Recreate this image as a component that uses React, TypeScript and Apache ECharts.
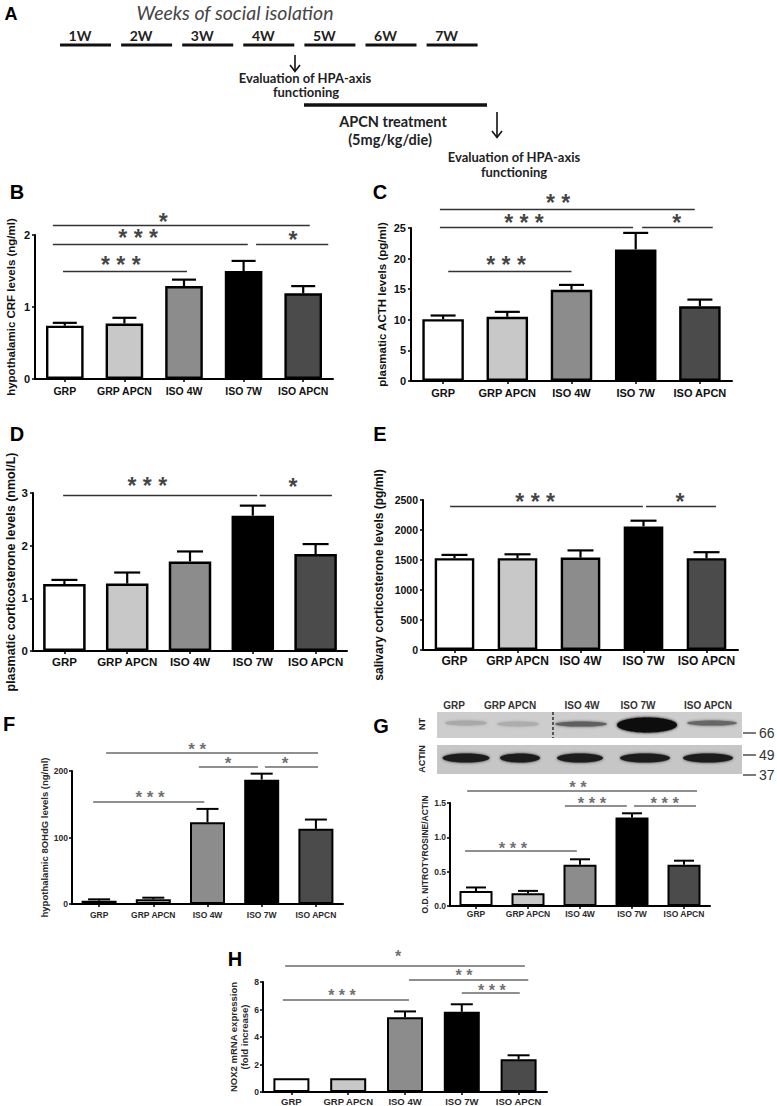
import React, { useEffect, useRef } from "react";
import * as echarts from "echarts";

const categories = ["GRP", "GRP APCN", "ISO 4W", "ISO 7W", "ISO APCN"];
const barColors = ["#ffffff", "#c8c8c8", "#8c8c8c", "#000000", "#4b4b4b"];
const weeks = ["1W", "2W", "3W", "4W", "5W", "6W", "7W"];

// B: hypothalamic CRF
const crfValues = [0.74, 0.77, 1.29, 1.5, 1.19];
const crfErrors = [0.04, 0.08, 0.09, 0.14, 0.1];
const crfTicks = [0, 2, 1];
// [x1, x2, lineY, starX, starY, stars]
const crfSig = [
  [-0.2, 4.11, 2.14, 1.65, 2.25, "*"],
  [-0.2, 3.07, 1.875, 1.23, 2.03, "***"],
  [3.21, 4.42, 1.875, 3.83, 2.0, "*"],
  [-0.03, 2.05, 1.5, 0.94, 1.65, "***"],
];

// C: plasmatic ACTH
const acthValues = [10.1, 10.5, 14.9, 21.5, 12.2];
const acthErrors = [0.6, 0.8, 0.8, 2.7, 1.1];
const acthTicks = [0, 25, 5];
const acthSig = [
  [-0.05, 3.92, 28.1, 1.79, 29.9, "**"],
  [-0.05, 2.96, 25.2, 1.26, 26.6, "***"],
  [3.1, 4.2, 25.2, 3.64, 26.6, "*"],
  [0.08, 2.0, 18.0, 0.98, 19.8, "***"],
];

// D: plasmatic corticosterone
const plasmaCortValues = [1.27, 1.28, 1.7, 2.57, 1.84];
const plasmaCortErrors = [0.08, 0.21, 0.19, 0.19, 0.19];
const plasmaCortTicks = [0, 3, 1];
const plasmaCortSig = [
  [-0.02, 3.07, 2.95, 1.32, 3.22, "***"],
  [3.11, 4.26, 2.95, 3.64, 3.2, "*"],
];

// E: salivary corticosterone
const salivaCortValues = [1530, 1530, 1540, 2060, 1530];
const salivaCortErrors = [55, 65, 120, 95, 100];
const salivaCortTicks = [0, 2500, 500];
const salivaCortSig = [
  [-0.07, 2.99, 2400, 1.28, 2550, "***"],
  [3.04, 4.15, 2400, 3.58, 2550, "*"],
];

// F: hypothalamic 8OHdG
const ohdgValues = [5, 7, 123, 187, 113];
const ohdgErrors = [2, 2.5, 20, 9, 14];
const ohdgTicks = [0, 200, 100];
const ohdgSig = [
  [0.13, 4.04, 228, 1.81, 238, "**"],
  [1.84, 2.93, 207, 2.38, 217, "*"],
  [3.06, 4.04, 207, 3.43, 217, "*"],
  [-0.11, 1.94, 154.5, 0.94, 166, "***"],
];

// G: nitrotyrosine / actin
const ntValues = [0.22, 0.185, 0.6, 1.29, 0.6];
const ntErrors = [0.05, 0.035, 0.08, 0.06, 0.06];
const ntTicks = [0, 1.5, 0.5];
const ntSig = [
  [-0.17, 4.25, 1.674, 1.96, 1.79, "**"],
  [1.71, 2.9, 1.456, 2.23, 1.55, "***"],
  [3.04, 4.23, 1.456, 3.63, 1.55, "***"],
  [-0.21, 1.94, 0.8, 0.71, 0.89, "***"],
];
const blotMarkers = ["66", "49", "37"];

// H: NOX2 mRNA
const nox2Values = [1.0, 1.0, 5.43, 5.83, 2.38];
const nox2Errors = [0, 0, 0.43, 0.55, 0.29];
const nox2Ticks = [0, 8, 2];
const nox2Sig = [
  [-0.11, 4.11, 9.2, 1.88, 10.14, "*"],
  [2.07, 4.17, 8.14, 3.04, 8.71, "**"],
  [3.0, 4.02, 7.2, 3.53, 7.64, "***"],
  [-0.15, 2.07, 6.7, 0.89, 7.29, "***"],
];

const FONT = "Liberation Sans";

const panels: any[] = [
  { left: 35, top: 235, width: 298, height: 144, values: crfValues, errors: crfErrors, ticks: crfTicks, sig: crfSig,
    ylabel: "hypothalamic CRF levels (ng/ml)", ylabelSize: 11.5, nameGap: 17, labelSize: 10.5, tickSize: 11, xMargin: 6, yMargin: 5,
    barWidth: 37.6, border: 2.4, errW: 2.2, cap: 12, starSize: 23, starColor: "#111", starDy: 5, lineColor: "#333", lineW: 1.3, textColor: "#111", axisW: 2 },
  { left: 411, top: 228, width: 321, height: 153, values: acthValues, errors: acthErrors, ticks: acthTicks, sig: acthSig,
    ylabel: "plasmatic ACTH levels (pg/ml)", ylabelSize: 11.5, nameGap: 22, labelSize: 11, tickSize: 11, xMargin: 6, yMargin: 5,
    barWidth: 41.5, border: 2.4, errW: 2.2, cap: 12.5, starSize: 23, starColor: "#111", starDy: 5, lineColor: "#333", lineW: 1.3, textColor: "#111", axisW: 2 },
  { left: 33, top: 493, width: 314, height: 158, values: plasmaCortValues, errors: plasmaCortErrors, ticks: plasmaCortTicks, sig: plasmaCortSig,
    ylabel: "plasmatic corticosterone levels (nmol/L)", ylabelSize: 12.5, nameGap: 15, labelSize: 11.5, tickSize: 11.5, xMargin: 5, yMargin: 5,
    barWidth: 42.5, border: 2.5, errW: 2.2, cap: 13, starSize: 23, starColor: "#111", starDy: 5, lineColor: "#333", lineW: 1.3, textColor: "#111", axisW: 2 },
  { left: 423, top: 500, width: 315, height: 150, values: salivaCortValues, errors: salivaCortErrors, ticks: salivaCortTicks, sig: salivaCortSig,
    ylabel: "salivary corticosterone levels (pg/ml)", ylabelSize: 12, nameGap: 37, labelSize: 12, tickSize: 10.5, xMargin: 5, yMargin: 5,
    barWidth: 39.6, border: 2.4, errW: 2.2, cap: 13, starSize: 23, starColor: "#111", starDy: 5, lineColor: "#333", lineW: 1.3, textColor: "#111", axisW: 2,
    fmt: (v: number) => String(v) },
  { left: 72, top: 771, width: 271, height: 133, values: ohdgValues, errors: ohdgErrors, ticks: ohdgTicks, sig: ohdgSig,
    ylabel: "hypothalamic 8OHdG levels (ng/ml)", ylabelSize: 9.5, nameGap: 22, labelSize: 8.5, tickSize: 8.5, xMargin: 6, yMargin: 4,
    barWidth: 35, border: 2, errW: 2, cap: 11, starSize: 17, starColor: "#4a4a4a", starDy: 3.6, lineColor: "#6a6a6a", lineW: 1.5, textColor: "#2a2a2a", axisW: 2 },
  { left: 450, top: 803, width: 260, height: 103, values: ntValues, errors: ntErrors, ticks: ntTicks, sig: ntSig,
    ylabel: "O.D. NITROTYROSINE/ACTIN", ylabelSize: 8.5, nameGap: 18, labelSize: 8.5, tickSize: 8.5, xMargin: 3, yMargin: 4,
    barWidth: 33, border: 2, errW: 2, cap: 10, starSize: 16.5, starColor: "#4a4a4a", starDy: 3.6, lineColor: "#6a6a6a", lineW: 1.5, textColor: "#2a2a2a", axisW: 2,
    fmt: (v: number) => v.toFixed(1) },
  { left: 263, top: 982, width: 284, height: 112, values: nox2Values, errors: nox2Errors, ticks: nox2Ticks, sig: nox2Sig,
    ylabel: "NOX2 mRNA expression\n(fold increase)", ylabelSize: 9.5, nameGap: 10, labelSize: 9.5, tickSize: 8.5, xMargin: 4, yMargin: 4,
    barWidth: 36, border: 2, errW: 2, cap: 11, starSize: 16, starColor: "#4a4a4a", starDy: 3.5, lineColor: "#6a6a6a", lineW: 1.5, textColor: "#2a2a2a", axisW: 2 },
];

function txt(text: string, x: number, y: number, size: number, o: any = {}) {
  return {
    type: "text",
    x,
    y,
    rotation: o.rotation || 0,
    silent: true,
    z: 10,
    style: {
      text,
      font: `${o.italic ? "italic" : "normal"} ${o.weight || "bold"} ${size}px ${o.family || FONT}`,
      fill: o.fill || "#111",
      textAlign: o.align || "center",
      textVerticalAlign: "middle",
    },
  };
}
function ln(x1: number, y1: number, x2: number, y2: number, w: number, c = "#111", dash?: number[]) {
  return { type: "line", silent: true, z: 10, shape: { x1, y1, x2, y2 }, style: { stroke: c, lineWidth: w, lineDash: dash } };
}

function buildGraphic() {
  const g: any[] = [];
  const letters: [string, number, number][] = [
    ["A", 11, 14], ["B", 17, 192], ["C", 380, 192], ["D", 17, 434], ["E", 380, 434], ["F", 9, 724], ["G", 381, 726], ["H", 235, 959],
  ];
  letters.forEach(([t, x, y]) => g.push(txt(t, x, y, t === "A" ? 18 : 20, { fill: "#000" })));

  // Panel A timeline
  g.push(txt("Weeks of social isolation", 235, 12, 19.5, { italic: true, weight: "normal", family: "Lato", fill: "#454545" }));
  weeks.forEach((w, i) => {
    const x0 = 60 + i * 61.1;
    g.push(ln(x0, 45, x0 + 51, 45, 3));
    g.push(txt(w, x0 + 20, 35, 14, { family: "Lato", fill: "#222" }));
  });
  g.push(ln(295, 55, 295, 71, 1.6));
  g.push({ type: "polyline", silent: true, z: 10, shape: { points: [[290, 65], [295, 71.5], [300, 65]] }, style: { stroke: "#111", lineWidth: 1.6, fill: null } });
  g.push(txt("Evaluation of HPA-axis", 305, 78, 13, { family: "Lato", fill: "#222" }));
  g.push(txt("functioning", 306, 92, 13, { family: "Lato", fill: "#222" }));
  g.push(ln(304, 105, 487, 105, 3.5));
  g.push(txt("APCN treatment", 393, 121, 14.5, { family: "Lato", fill: "#222" }));
  g.push(txt("(5mg/kg/die)", 390, 139, 14.5, { family: "Lato", fill: "#222" }));
  g.push(ln(497, 112, 497, 137, 1.6));
  g.push({ type: "polyline", silent: true, z: 10, shape: { points: [[492, 131], [497, 137.5], [502, 131]] }, style: { stroke: "#111", lineWidth: 1.6, fill: null } });
  g.push(txt("Evaluation of HPA-axis", 514, 157, 13, { family: "Lato", fill: "#222" }));
  g.push(txt("functioning", 514, 172, 13, { family: "Lato", fill: "#222" }));

  // Panel G western blot
  const laneLabels: [string, number][] = [["GRP", 454], ["GRP APCN", 510], ["ISO 4W", 582], ["ISO 7W", 638], ["ISO APCN", 708]];
  laneLabels.forEach(([t, x]) => g.push(txt(t, x, 705, 10, { fill: "#333" })));
  g.push({ type: "rect", silent: true, z: 8, shape: { x: 437, y: 712, width: 305, height: 26 }, style: { fill: "#cdcdcd" } });
  g.push({ type: "rect", silent: true, z: 8, shape: { x: 437, y: 745, width: 305, height: 29 }, style: { fill: "#c6c6c6" } });
  const ntBands: [number, number, number, number, string][] = [
    [466, 723, 21, 2.5, "#a9a9a9"], [518, 724, 21, 2.5, "#adadad"], [581, 724, 26, 2.6, "#5e5e5e"], [647, 725, 30, 7.5, "#0d0d0d"], [712, 723, 25, 2.6, "#666"],
  ];
  ntBands.forEach(([cx, cy, rx, ry, c]) =>
    g.push({ type: "ellipse", silent: true, z: 9, shape: { cx, cy, rx, ry }, style: { fill: c, shadowBlur: 3, shadowColor: c } })
  );
  g.push(ln(553, 712, 553, 738, 1.4, "#222", [3, 2]));
  const actinBands: [number, number][] = [[466, 23.5], [520, 20], [580, 23], [645, 25], [708, 25]];
  actinBands.forEach(([cx, rx]) =>
    g.push({ type: "ellipse", silent: true, z: 9, shape: { cx, cy: 758, rx, ry: 4.5 }, style: { fill: "#1a1a1a", shadowBlur: 3, shadowColor: "#333" } })
  );
  g.push(txt("NT", 422, 724, 9, { rotation: Math.PI / 2, fill: "#222" }));
  g.push(txt("ACTIN", 422, 759, 9, { rotation: Math.PI / 2, fill: "#222" }));
  const markerY = [733, 755, 775];
  blotMarkers.forEach((m, i) => {
    g.push(ln(743, markerY[i], 756, markerY[i], 1.3, "#333"));
    g.push(txt(m, 759, markerY[i], 14, { align: "left", weight: "normal", fill: "#333" }));
  });
  return g;
}

function buildOption() {
  const grid: any[] = [];
  const xAxis: any[] = [];
  const yAxis: any[] = [];
  const series: any[] = [];
  panels.forEach((p, i) => {
    grid.push({ left: p.left, top: p.top, width: p.width, height: p.height });
    xAxis.push({
      type: "category",
      gridIndex: i,
      data: categories,
      axisLine: { onZero: false, lineStyle: { color: "#000", width: p.axisW } },
      axisTick: { show: true, alignWithLabel: true, length: 3, lineStyle: { color: "#000", width: 1.5 } },
      axisLabel: { interval: 0, fontSize: p.labelSize, fontWeight: "bold", fontFamily: FONT, color: p.textColor, margin: p.xMargin },
      splitLine: { show: false },
    });
    xAxis.push({ type: "value", gridIndex: i, min: -0.5, max: 4.5, show: false });
    yAxis.push({
      type: "value",
      gridIndex: i,
      min: p.ticks[0],
      max: p.ticks[1],
      interval: p.ticks[2],
      axisLine: { show: true, onZero: false, lineStyle: { color: "#000", width: p.axisW } },
      axisTick: { show: true, length: 3, lineStyle: { color: "#000", width: 1.5 } },
      splitLine: { show: false },
      axisLabel: { fontSize: p.tickSize, fontWeight: "bold", fontFamily: FONT, color: p.textColor, margin: p.yMargin, formatter: p.fmt },
      name: p.ylabel,
      nameLocation: "middle",
      nameGap: p.nameGap,
      nameTextStyle: { fontSize: p.ylabelSize, fontWeight: "bold", fontFamily: FONT, color: p.textColor, lineHeight: p.ylabelSize * 1.15 },
    });
    series.push({
      type: "bar",
      xAxisIndex: 2 * i,
      yAxisIndex: i,
      barWidth: p.barWidth,
      data: p.values.map((v: number, k: number) => ({ value: v, itemStyle: { color: barColors[k] } })),
      itemStyle: { borderColor: "#000", borderWidth: p.border },
      silent: true,
      z: 2,
    });
    series.push({
      type: "custom",
      xAxisIndex: 2 * i,
      yAxisIndex: i,
      data: p.values.map((v: number, k: number) => [k, v, p.errors[k]]),
      silent: true,
      z: 3,
      renderItem: (params: any, api: any) => {
        const idx = api.value(0);
        const v = api.value(1);
        const e = api.value(2);
        if (!e) return { type: "group", children: [] };
        const b = api.coord([idx, v]);
        const t = api.coord([idx, v + e]);
        return {
          type: "group",
          children: [
            { type: "line", shape: { x1: b[0], y1: b[1], x2: t[0], y2: t[1] }, style: { stroke: "#000", lineWidth: p.errW } },
            { type: "line", shape: { x1: t[0] - p.cap, y1: t[1], x2: t[0] + p.cap, y2: t[1] }, style: { stroke: "#000", lineWidth: p.errW } },
          ],
        };
      },
    });
    series.push({
      type: "lines",
      coordinateSystem: "cartesian2d",
      xAxisIndex: 2 * i + 1,
      yAxisIndex: i,
      clip: false,
      silent: true,
      z: 4,
      lineStyle: { color: p.lineColor, width: p.lineW, opacity: 1, curveness: 0 },
      data: p.sig.map((s: any[]) => ({ coords: [[s[0], s[2]], [s[1], s[2]]] })),
    });
    series.push({
      type: "scatter",
      xAxisIndex: 2 * i + 1,
      yAxisIndex: i,
      clip: false,
      silent: true,
      symbolSize: 0,
      z: 5,
      data: p.sig.map((s: any[]) => ({ value: [s[3], s[4]], label: { formatter: String(s[5]).split("").join(" ") } })),
      label: {
        show: true,
        position: "inside",
        fontSize: p.starSize,
        fontWeight: "bold",
        lineHeight: Math.round(p.starSize * 0.55),
        fontFamily: FONT,
        color: p.starColor,
        offset: [0, p.starDy],
      },
    });
  });
  return {
    animation: false,
    backgroundColor: "#ffffff",
    textStyle: { fontFamily: FONT },
    grid,
    xAxis,
    yAxis,
    series,
    graphic: buildGraphic(),
  };
}

export default function App() {
  const ref = useRef<HTMLDivElement>(null);
  useEffect(() => {
    const chart = echarts.init(ref.current as HTMLDivElement, null, { renderer: "svg" });
    chart.setOption(buildOption() as any);
    return () => chart.dispose();
  }, []);
  return <div ref={ref} style={{ position: "absolute", left: 0, top: 0, width: 777, height: 1106, background: "#fff" }} />;
}
